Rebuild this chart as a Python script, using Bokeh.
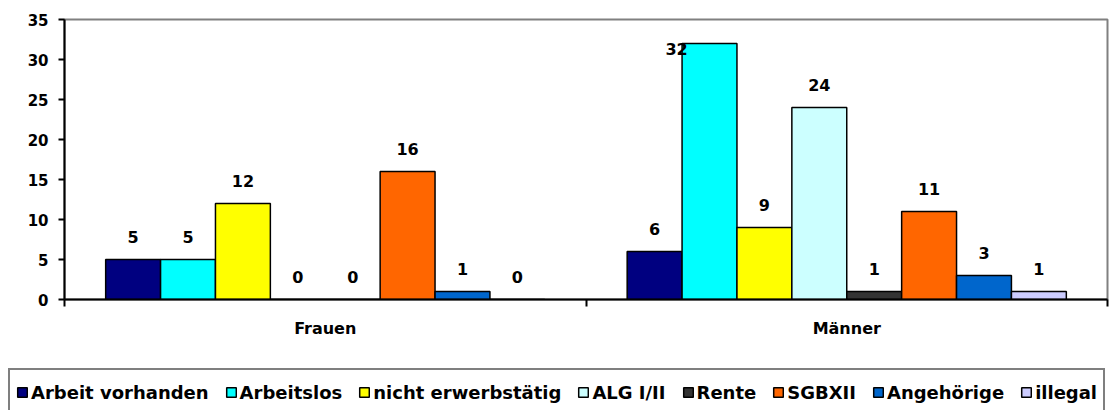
from bokeh.plotting import figure
from bokeh.layouts import column
from bokeh.models import ColumnDataSource, FixedTicker, Legend, LegendItem, Range1d
from bokeh.transform import dodge
from bokeh.core.properties import value
from bokeh.embed import file_html
from bokeh.resources import INLINE

categories = ["Frauen", "Männer"]
series_names = ["Arbeit vorhanden", "Arbeitslos", "nicht erwerbstätig", "ALG I/II",
                "Rente", "SGBXII", "Angehörige", "illegal"]
frauen = [5, 5, 12, 0, 0, 16, 1, 0]
maenner = [6, 32, 9, 24, 1, 11, 3, 1]
colors = ["#000080", "#00FFFF", "#FFFF00", "#CCFFFF", "#333333", "#FF6600", "#0066CC", "#CCCCFF"]
y_ticks = [0, 5, 10, 15, 20, 25, 30, 35]
y_max = 35

FONT = "DejaVu Sans"

n = len(series_names)
bw = 1.0 / (n + 1.5)
centers = [i + 0.5 for i in range(len(categories))]

W = 1114
p = figure(width=W, height=352, x_range=Range1d(0, len(categories)), y_range=Range1d(0, y_max),
           output_backend="svg", toolbar_location=None,
           min_border_left=64, min_border_right=7, min_border_top=19, min_border_bottom=53)
p.xgrid.visible = False
p.ygrid.visible = False
p.outline_line_color = "#808080"
p.outline_line_width = 2

label_room = 4  # units of headroom needed above a bar for its label

for i, name in enumerate(series_names):
    vals = [frauen[i], maenner[i]]
    off = (i - (n - 1) / 2) * bw
    src = ColumnDataSource({"x": centers, "v": vals, "t": [str(v) for v in vals]})
    p.vbar(x=dodge("x", off, range=p.x_range), top="v", width=bw, source=src,
           fill_color=colors[i], line_color="black", line_width=1.5)
    normal = [k for k, v in enumerate(vals) if v <= y_max - label_room]
    clamped = [k for k, v in enumerate(vals) if v > y_max - label_room]
    if normal:
        s1 = ColumnDataSource({"x": [centers[k] for k in normal], "v": [vals[k] for k in normal],
                               "t": [str(vals[k]) for k in normal]})
        p.text(x=dodge("x", off, range=p.x_range), y="v", text="t", source=s1,
               text_align="center", text_baseline="middle", y_offset=-23,
               text_font=value(FONT), text_font_style="bold", text_font_size="16px",
               text_color="black")
    if clamped:
        s2 = ColumnDataSource({"x": [centers[k] for k in clamped], "v": [vals[k] for k in clamped],
                               "t": [str(vals[k]) for k in clamped]})
        p.text(x=dodge("x", off, range=p.x_range), y="v", text="t", source=s2,
               text_align="center", text_baseline="middle", x_offset=-33, y_offset=5,
               text_font=value(FONT), text_font_style="bold", text_font_size="16px",
               text_color="black")

# axes
p.yaxis.ticker = FixedTicker(ticks=y_ticks)
p.yaxis.axis_line_width = 2
p.yaxis.axis_line_color = "black"
p.yaxis.major_tick_line_width = 2
p.yaxis.major_tick_out = 6
p.yaxis.major_tick_in = 0
p.yaxis.minor_tick_line_color = None
p.yaxis.major_label_standoff = 10
p.yaxis.major_label_text_font = FONT
p.yaxis.major_label_text_font_style = "bold"
p.yaxis.major_label_text_font_size = "15px"
p.yaxis.major_label_text_color = "black"

p.xaxis.ticker = FixedTicker(ticks=centers, minor_ticks=list(range(len(categories) + 1)))
p.xaxis.major_label_overrides = {c: lab for c, lab in zip(centers, categories)}
p.xaxis.axis_line_width = 2
p.xaxis.axis_line_color = "black"
p.xaxis.major_tick_out = 0
p.xaxis.major_tick_in = 0
p.xaxis.major_tick_line_color = None
p.xaxis.minor_tick_line_color = "black"
p.xaxis.minor_tick_line_width = 2
p.xaxis.minor_tick_out = 7
p.xaxis.minor_tick_in = 0
p.xaxis.major_label_standoff = 12
p.xaxis.major_label_text_font = FONT
p.xaxis.major_label_text_font_style = "bold"
p.xaxis.major_label_text_font_size = "16px"
p.xaxis.major_label_text_color = "black"

# legend in its own strip below the chart
LH = 58
p2 = figure(width=W, height=LH, x_range=Range1d(0, 1), y_range=Range1d(0, 1),
            output_backend="svg", toolbar_location=None, min_border=0)
p2.axis.visible = False
p2.xgrid.visible = False
p2.ygrid.visible = False
p2.outline_line_color = None
for fig in (p, p2):
    try:
        fig.frame_align = False
    except Exception:
        pass

items = []
for i, name in enumerate(series_names):
    # placeholder bar far outside the visible range, only used to draw the legend swatch
    r = p2.vbar(x=[0.5], bottom=[-20], top=[-10], width=0.1,
                fill_color=colors[i], line_color="black", line_width=1.5)
    items.append(LegendItem(label=name, renderers=[r]))

pad = 6
lab_h = 32
leg_h = 2 * pad + lab_h
legend = Legend(items=items, location=(8, LH - 20 - leg_h), orientation="horizontal",
                border_line_color="black", border_line_width=2, background_fill_color="white",
                background_fill_alpha=1.0, padding=pad, spacing=16, label_standoff=3,
                glyph_width=12, glyph_height=12, label_height=lab_h, margin=0,
                label_text_font=FONT, label_text_font_style="bold", label_text_font_size="18px",
                label_text_color="black")
p2.add_layout(legend)

layout = column(p, p2, spacing=0)
open("out.html", "w").write(file_html(layout, INLINE))
